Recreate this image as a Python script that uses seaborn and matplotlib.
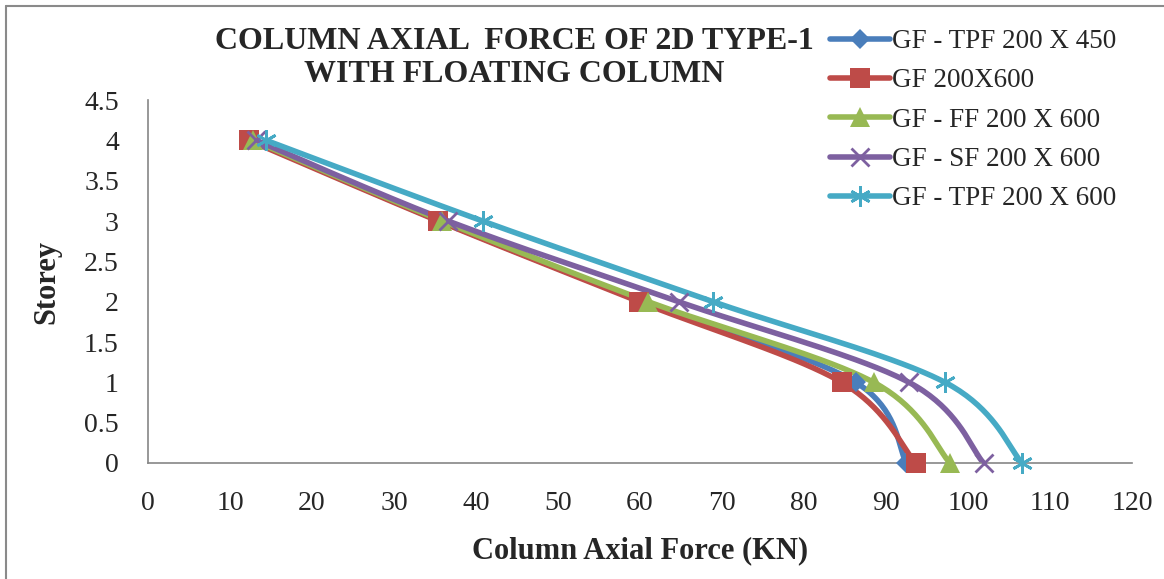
import numpy as np
import pandas as pd
import matplotlib
matplotlib.use("Agg")
import matplotlib.pyplot as plt
from matplotlib.lines import Line2D
import seaborn as sns

# Storey levels and column axial force (kN) for each frame configuration
storey = [0, 1, 2, 3, 4]
gf_tpf_450 = [92.5, 86.3, 60.3, 35.6, 12.6]
gf_200x600 = [93.6, 84.6, 59.9, 35.4, 12.3]
gf_ff_600 = [97.8, 88.5, 61.0, 35.9, 12.8]
gf_sf_600 = [101.9, 92.8, 64.7, 36.6, 13.2]
gf_tpf_600 = [106.6, 97.2, 68.9, 40.8, 14.4]

series_names = ["GF - TPF 200 X 450", "GF 200X600", "GF - FF 200 X 600",
                "GF - SF 200 X 600", "GF - TPF 200 X 600"]
series_values = [gf_tpf_450, gf_200x600, gf_ff_600, gf_sf_600, gf_tpf_600]
colors = ["#4A7EBB", "#BE4B48", "#98B954", "#7D60A0", "#46AAC5"]
markers = ["D", "s", "^", "x", (6, 2, 0)]
msizes = [10, 14, 15, 13, 15]

x_ticks = list(range(0, 121, 10))
y_ticks = [0, 0.5, 1, 1.5, 2, 2.5, 3, 3.5, 4, 4.5]
y_ticklabels = ["0", "0.5", "1", "1.5", "2", "2.5", "3", "3.5", "4", "4.5"]


def smooth(xs, ys, n=40):
    """Bezier smoothing through the points (Catmull-Rom style control points)."""
    p = np.column_stack([xs, ys]).astype(float)
    ext = np.vstack([p[0], p, p[-1]])
    out = []
    for i in range(1, len(ext) - 2):
        p0, p1, p2, p3 = ext[i - 1], ext[i], ext[i + 1], ext[i + 2]
        c1 = p1 + (p2 - p0) / 6.0
        c2 = p2 - (p3 - p1) / 6.0
        t = np.linspace(0, 1, n)[:, None]
        seg = ((1 - t) ** 3) * p1 + 3 * ((1 - t) ** 2) * t * c1 \
            + 3 * (1 - t) * t ** 2 * c2 + t ** 3 * p2
        out.append(seg if i == 1 else seg[1:])
    s = np.vstack(out)
    return s[:, 0], s[:, 1]


def is_line_marker(m):
    return m in ("x", (6, 2, 0))


sns.set_theme(style="white")
plt.rcParams["font.family"] = ["Liberation Serif", "DejaVu Serif"]

fig = plt.figure(figsize=(11.64, 5.79), dpi=100)
ax = fig.add_axes([148 / 1164, 1 - 463 / 579, (1132 - 148) / 1164, (463 - 100) / 579])

for name, vals, col, mk, ms in zip(series_names, series_values, colors, markers, msizes):
    sx, sy = smooth(vals, storey)
    curve = pd.DataFrame({"force": sx, "storey": sy})
    sns.lineplot(data=curve, x="force", y="storey", sort=False, estimator=None,
                 color=col, linewidth=4, ax=ax, zorder=2)
    pts = pd.DataFrame({"force": vals, "storey": storey})
    ax.plot(pts["force"], pts["storey"], linestyle="none", marker=mk,
            markersize=ms, markeredgewidth=(2 if is_line_marker(mk) else 0),
            color=col, zorder=3, clip_on=False)

ax.set_xlim(0, 120)
ax.set_ylim(0, 4.5)
ax.set_xticks(x_ticks)
ax.set_xticklabels([str(v) for v in x_ticks], fontsize=20)
ax.set_yticks(y_ticks)
ax.set_yticklabels(y_ticklabels, fontsize=20)
ax.tick_params(axis="x", length=0, pad=20)
ax.tick_params(axis="y", length=0, pad=21)
for side in ("top", "right"):
    ax.spines[side].set_visible(False)
for side in ("left", "bottom"):
    ax.spines[side].set_color("#868686")
    ax.spines[side].set_linewidth(1.2)
ax.set_facecolor("none")

ax.set_xlabel("Column Axial Force (KN)", fontsize=22, fontweight="bold", labelpad=15)
ax.set_ylabel("Storey", fontsize=22, fontweight="bold", labelpad=16)

fig.text(514 / 1164, 1 - 58 / 579, "COLUMN AXIAL  FORCE OF 2D TYPE-1\nWITH FLOATING COLUMN",
         ha="center", va="center", fontsize=23, fontweight="bold", linespacing=1.22)

handles = [Line2D([0], [0], color=c, lw=4, marker=m, markersize=s,
                  markeredgewidth=(2 if is_line_marker(m) else 0))
           for c, m, s in zip(colors, markers, msizes)]
leg = fig.legend(handles, series_names, loc="upper left",
                 bbox_to_anchor=(830 / 1164, 1 - 29 / 579), frameon=False,
                 fontsize=19.5, handlelength=2.2, handletextpad=0.08,
                 labelspacing=0.53, borderaxespad=0, borderpad=0)

# outer chart frame
fig.add_artist(Line2D([6 / 1164, 6 / 1164], [0, 1 - 6 / 579], transform=fig.transFigure,
                      color="#8A8A8A", lw=1.5))
fig.add_artist(Line2D([6 / 1164, 1], [1 - 6 / 579, 1 - 6 / 579], transform=fig.transFigure,
                      color="#8A8A8A", lw=1.5))

fig.savefig("out.png", dpi=100, facecolor="white")
